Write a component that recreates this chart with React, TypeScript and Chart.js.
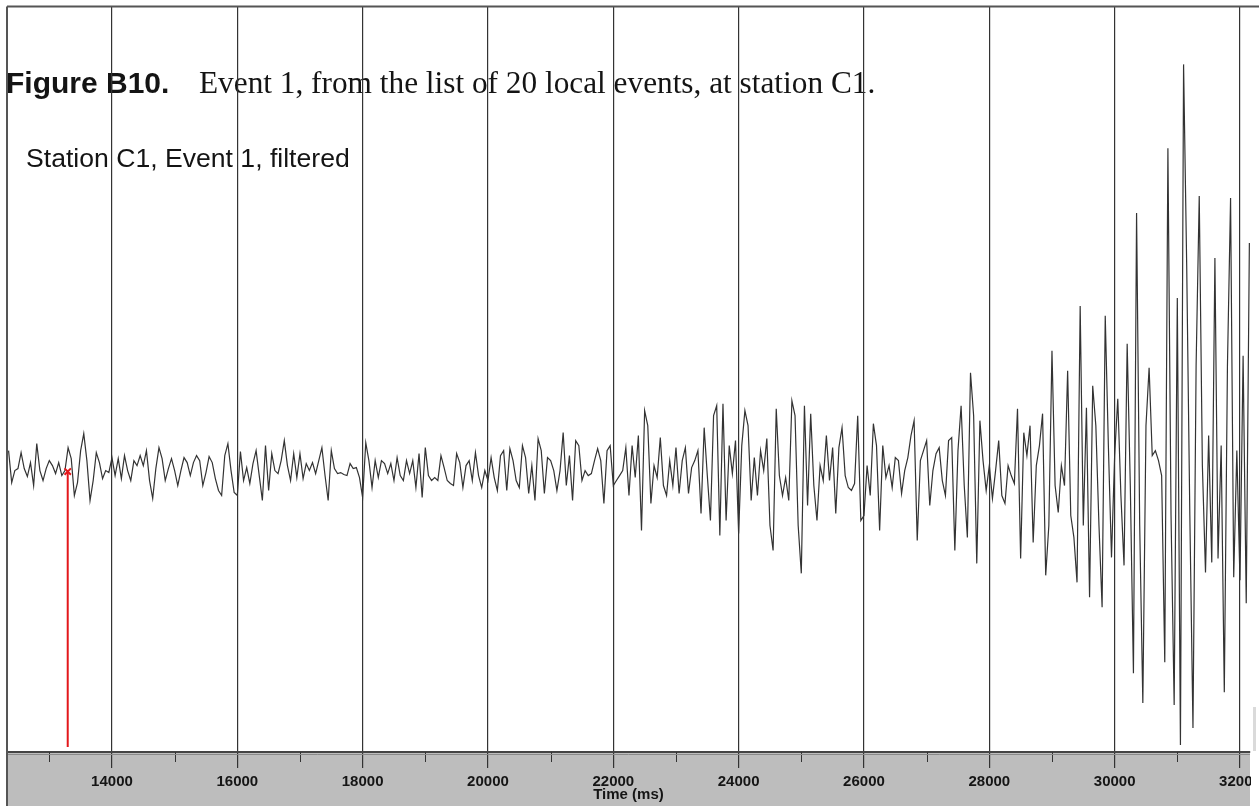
import React, { useEffect, useRef } from "react";
import { Chart, registerables } from "chart.js";

Chart.register(...registerables);

// ---- texts ----
const FIG_LABEL = "Figure B10.";
const FIG_CAPTION = "Event 1, from the list of 20 local events, at station C1.";
const TRACE_LABEL = "Station C1, Event 1, filtered";
const X_TITLE = "Time (ms)";

// ---- axis ----
const X_MIN_MS = 12325;
const X_MAX_MS = 32160;
const FIRST_TICK_MS = 13000;
const MAJOR_STEP_MS = 2000;
const MINOR_STEP_MS = 1000;
const Y_MIN = -287;
const Y_MAX = 460;

const SAMPLE_START_MS = 12350;
const SAMPLE_STEP_MS = 50;
const TRACE_12_14 = [15, -17, -5, -3, 13, -3, -11, 3, -20, 22, -5, -15, -3, 5, 0, -8, 3, -10, -5, 18, 7, -30, -17, 15, 32, 5, -35, -15, 13, 3, -13, -5, -7, 8];
const TRACE_14_16 = [-10, 7, -13, 10, -5, -15, 5, 0, 10, 0, 15, -15, -33, -3, 18, 7, -15, -3, 7, -5, -20, -5, 8, 3, -10, 3, 10, 5, -20, -7, 9, 3, -13, -25, -30, 10, 22, -5, -27, -30];
const TRACE_16_18 = [14, -15, -2, -18, 2, 15, -10, -35, 20, -25, 12, -5, -8, 5, 25, 0, -15, 12, -12, 12, -13, 2, -5, 3, -8, 5, 18, -10, -35, 15, -3, -8, -7, -9, -10, 2, -3, -2, -12, -32];
const TRACE_18_20 = [23, 5, -22, 5, -12, 5, 2, -8, 2, -15, 8, -10, -15, 5, -8, 5, -22, 12, -32, 18, -10, -15, -12, -15, 10, -2, -15, -18, -20, 12, 3, -22, 0, 5, -15, 13, -10, -22, -5, -15];
const TRACE_20_22 = [8, -12, -25, 10, 15, -25, 17, 5, -15, -22, 20, 8, -28, 0, -35, 27, 15, -28, 8, 5, -5, -25, -5, 33, -20, 10, -35, 25, 20, -15, -5, -10, -8, 5, 17, 5, -38, 15, 20, -20];
const TRACE_22_24 = [-15, -10, -5, 18, -30, 20, -12, 30, -65, 55, 40, -38, 0, -12, 28, -20, -30, 5, -20, 18, -28, 5, 18, -28, -2, 5, 15, -48, 38, -10, -55, 50, 60, -70, 62, -55, 20, -8, 25, -68];
const TRACE_24_26 = [20, 55, 40, -35, 8, -30, 15, -5, 27, -60, -85, 57, -10, -30, -12, -35, 65, 50, -60, -108, 60, -40, 52, -20, -55, 0, -15, 30, -15, 18, -48, 18, 38, -10, -22, -25, -18, 50, -55, -50];
const TRACE_26_28 = [0, -30, 42, 20, -65, 20, -12, 0, -22, 8, 5, -28, -5, 8, 30, 45, -75, 5, 15, 25, -40, -5, 12, 18, -15, -30, 25, 28, -85, 15, 60, -20, -72, 93, 50, -98, 45, 5, -25, 0];
const TRACE_28_30 = [-33, -5, 25, -30, -38, 0, -10, -18, 57, -93, 33, 10, 40, -77, 0, 20, 52, -110, -60, 115, -20, -47, 0, -20, 95, -50, -72, -117, 160, -60, 58, -132, 80, 40, -60, -142, 150, 20, -92, 10];
const TRACE_30_32 = [67, -30, -100, 122, -20, -208, 253, -60, -238, 40, 98, 10, 15, 5, -10, -197, 318, -50, -240, 168, -280, 402, 200, -50, -263, 100, 270, 0, -107, 30, -97, 208, -93, 20, -227, 100, 268, -112, 15, -115, 110, -138, 223];

// ---- pick marker ----
const PICK_TIME_MS = 13294;
const PICK_LINE_Y = [-282, -6];

const FONT_AXIS = '"Liberation Sans", Arial, sans-serif';

export default function App() {
  const ref = useRef<HTMLCanvasElement | null>(null);

  useEffect(() => {
    const canvas = ref.current;
    if (!canvas) return;

    const values = [
      ...TRACE_12_14, ...TRACE_14_16, ...TRACE_16_18, ...TRACE_18_20, ...TRACE_20_22,
      ...TRACE_22_24, ...TRACE_24_26, ...TRACE_26_28, ...TRACE_28_30, ...TRACE_30_32,
    ];
    const trace = values.map((v, i) => ({ x: SAMPLE_START_MS + i * SAMPLE_STEP_MS, y: v }));
    const pick = PICK_LINE_Y.map((v) => ({ x: PICK_TIME_MS, y: v }));

    const decor = {
      id: "decor",
      beforeDraw(chart: any) {
        const { ctx, chartArea, width, height } = chart;
        ctx.save();
        ctx.fillStyle = "#ffffff";
        ctx.fillRect(0, 0, width, height);
        ctx.fillStyle = "#bdbdbd";
        ctx.fillRect(chartArea.left, chartArea.bottom, chartArea.right - chartArea.left, 54);
        ctx.fillStyle = "#141414";
        ctx.textBaseline = "alphabetic";
        ctx.font = 'bold 30px "Liberation Sans", Arial, sans-serif';
        ctx.fillText(FIG_LABEL, 6, 93);
        ctx.font = '31.3px "Liberation Serif", "Times New Roman", serif';
        ctx.fillText(FIG_CAPTION, 199, 93);
        ctx.font = '26.6px "Liberation Sans", Arial, sans-serif';
        ctx.fillText(TRACE_LABEL, 26, 167);
        ctx.restore();
      },
      afterDraw(chart: any) {
        const { ctx, chartArea, width, height } = chart;
        const xs = chart.scales.x;
        ctx.save();
        // minor ticks
        ctx.strokeStyle = "#333";
        ctx.lineWidth = 1;
        ctx.beginPath();
        for (const t of xs.ticks) {
          if (t.value % MINOR_STEP_MS !== 0 || t.value % MAJOR_STEP_MS === 0) continue;
          const px = Math.round(xs.getPixelForValue(t.value)) + 0.5;
          ctx.moveTo(px, chartArea.bottom);
          ctx.lineTo(px, chartArea.bottom + 10);
        }
        ctx.stroke();
        // shadow under band top
        ctx.strokeStyle = "#8a8a8a";
        ctx.beginPath();
        ctx.moveTo(chartArea.left, chartArea.bottom + 2.5);
        ctx.lineTo(chartArea.right, chartArea.bottom + 2.5);
        ctx.stroke();
        // clip right overhang
        ctx.fillStyle = "#ffffff";
        ctx.fillRect(chartArea.right + 1, chartArea.bottom - 1, width - chartArea.right, height);
        ctx.fillStyle = "#dadada";
        ctx.fillRect(chartArea.right + 3, chartArea.bottom - 45, 3, 44);
        // frame
        ctx.strokeStyle = "#555";
        ctx.lineWidth = 2;
        ctx.beginPath();
        ctx.moveTo(chartArea.left, chartArea.top);
        ctx.lineTo(width, chartArea.top);
        ctx.stroke();
        ctx.beginPath();
        ctx.moveTo(chartArea.left, chartArea.top);
        ctx.lineTo(chartArea.left, chartArea.bottom + 54);
        ctx.stroke();
        ctx.restore();
      },
    };

    const isMajor = (c: any) => c.tick && c.tick.value % MAJOR_STEP_MS === 0;

    const chart = new Chart(canvas, {
      type: "line",
      data: {
        datasets: [
          {
            data: pick,
            borderColor: "#e3171b",
            borderWidth: 2,
            pointRadius: [0, 4.5],
            pointStyle: "crossRot",
            pointBorderColor: "#e3171b",
            pointBorderWidth: 2,
            tension: 0,
          },
          {
            data: trace,
            borderColor: "#333333",
            borderWidth: 1.2,
            pointRadius: 0,
            tension: 0,
          },
        ],
      },
      options: {
        animation: false,
        responsive: false,
        devicePixelRatio: 1,
        layout: { padding: { left: 7, right: 9, top: 5, bottom: 0 } },
        plugins: { legend: { display: false }, tooltip: { enabled: false } },
        scales: {
          x: {
            type: "linear",
            min: X_MIN_MS,
            max: X_MAX_MS,
            afterBuildTicks: (s: any) => {
              const t: any[] = [{ value: X_MIN_MS }];
              for (let v = FIRST_TICK_MS; v <= X_MAX_MS; v += MINOR_STEP_MS) t.push({ value: v });
              t.push({ value: X_MAX_MS });
              s.ticks = t;
            },
            afterFit: (s: any) => {
              s.height = 57;
            },
            grid: {
              color: (c: any) => (isMajor(c) ? "#333333" : "rgba(0,0,0,0)"),
              tickColor: (c: any) => (isMajor(c) ? "#333" : "rgba(0,0,0,0)"),
              lineWidth: 1.2,
              tickLength: 16,
              drawTicks: true,
            },
            border: { display: true, color: "#444", width: 2 },
            ticks: {
              autoSkip: false,
              maxRotation: 0,
              padding: 5,
              color: "#151515",
              font: { family: FONT_AXIS, size: 15, weight: "bold" },
              callback: (v: any) => (Number(v) % MAJOR_STEP_MS === 0 ? String(v) : ""),
            },
            title: {
              display: true,
              text: X_TITLE,
              color: "#151515",
              font: { family: FONT_AXIS, size: 15, weight: "bold" },
              padding: { top: 0, bottom: 5 },
            },
          },
          y: { display: false, min: Y_MIN, max: Y_MAX },
        },
      },
      plugins: [decor],
    } as any);

    return () => chart.destroy();
  }, []);

  return (
    <div style={{ position: "fixed", left: 0, top: 0, width: 1259, height: 809, background: "#fff" }}>
      <canvas ref={ref} width={1259} height={809} style={{ display: "block", width: 1259, height: 809 }} />
    </div>
  );
}
